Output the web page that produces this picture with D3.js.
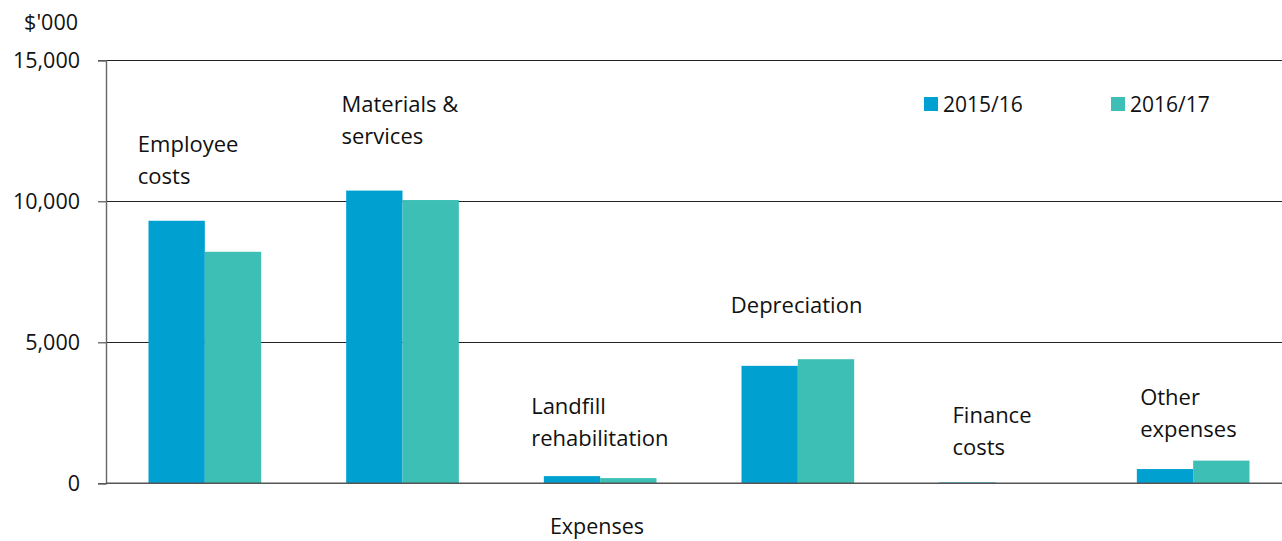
<!DOCTYPE html>
<html><head><meta charset="utf-8">
<script src="https://cdn.jsdelivr.net/npm/d3@7"></script>
<style>
html,body{margin:0;padding:0;background:#fff;}
svg{display:block;font-family:"Open Sans","Noto Sans",sans-serif;}
</style></head>
<body><svg id="c" width="1282" height="541"></svg>
<script>
const categories = ["Employee costs","Materials & services","Landfill rehabilitation","Depreciation","Finance costs","Other expenses"];
const labelLines = [["Employee","costs"],["Materials &","services"],["Landfill","rehabilitation"],["Depreciation"],["Finance","costs"],["Other","expenses"]];
const seriesNames = ["2015/16","2016/17"];
const values2015 = [9310, 10380, 255, 4165, 30, 505];
const values2016 = [8210, 10045, 185, 4400, 0, 805];
const yTicks = [0, 5000, 10000, 15000];
const yTitle = "$'000";
const xTitle = "Expenses";

(function(){
const colors = ["#00A0D1", "#3DBFB5"];
// label layout (pixel offsets relative to group centre / first baseline)
const labelLayout = [[-67,152],[-61,112],[-69,414],[-67,313],[-43,423],[-53,405]];

const svg = d3.select("#c");
const pLeft = 106, pRight = 1292, pTop = 60.3, pBottom = 483.3;

const x0 = d3.scaleBand().domain(categories).range([pLeft, pRight]).paddingInner(0.43).paddingOuter(0.215);
const x1 = d3.scaleBand().domain(seriesNames).range([0, x0.bandwidth()]);
const y = d3.scaleLinear().domain([0, 15000]).range([pBottom, pTop]);

// gridlines
svg.append("g").selectAll("line").data(yTicks.filter(d=>d>0)).join("line")
  .attr("x1", pLeft).attr("x2", 1282).attr("y1", d=>Math.round(y(d))+0.5).attr("y2", d=>Math.round(y(d))+0.5)
  .attr("stroke", "#222").attr("stroke-width", 1.2);

// y axis
const yAxis = d3.axisLeft(y).tickValues(yTicks).tickSize(8).tickPadding(18).tickFormat(d3.format(","));
const gy = svg.append("g").attr("transform", `translate(${pLeft},0)`).call(yAxis);
gy.select(".domain").attr("stroke", "#666").attr("stroke-width", 1.4);
gy.selectAll(".tick line").attr("stroke", "#555").attr("stroke-width", 1.2);
gy.selectAll(".tick text").attr("font-size", 21.5).attr("fill", "#111").attr("font-family", "Open Sans");

// bars
const data = categories.map((c,i)=>({cat:c, vals:[values2015[i], values2016[i]]}));
const groups = svg.append("g").selectAll("g").data(data).join("g")
  .attr("transform", d=>`translate(${x0(d.cat)},0)`);
groups.selectAll("rect").data(d=>d.vals.map((v,j)=>({v, s:seriesNames[j], j}))).join("rect")
  .attr("x", d=>x1(d.s)).attr("width", x1.bandwidth())
  .attr("y", d=>y(d.v)).attr("height", d=>pBottom - y(d.v))
  .attr("fill", d=>colors[d.j]);

// x axis line
svg.append("line").attr("x1", pLeft).attr("x2", 1282).attr("y1", pBottom).attr("y2", pBottom)
  .attr("stroke", "#555").attr("stroke-width", 1.4);

// category labels
categories.forEach((c,i)=>{
  const cx = x0(c) + x0.bandwidth()/2;
  const t = svg.append("text").attr("font-size", 22).attr("fill", "#111");
  labelLines[i].forEach((ln,k)=>{
    t.append("tspan").attr("x", cx + labelLayout[i][0]).attr("y", labelLayout[i][1] + k*31.5).text(ln);
  });
});

// legend
const leg = svg.append("g").selectAll("g").data(seriesNames).join("g")
  .attr("transform", (d,i)=>`translate(${924 + i*187},97)`);
leg.append("rect").attr("width", 14).attr("height", 14).attr("fill", (d,i)=>colors[i]);
leg.append("text").attr("x", 19).attr("y", 15).attr("font-size", 21).attr("fill", "#111").text(d=>d);

// titles
svg.append("text").attr("x", 78).attr("y", 30).attr("text-anchor", "end").attr("font-size", 21.5).attr("fill", "#111").text(yTitle);
svg.append("text").attr("x", 597).attr("y", 534).attr("text-anchor", "middle").attr("font-size", 21.5).attr("fill", "#111").text(xTitle);
})();
</script></body></html>
